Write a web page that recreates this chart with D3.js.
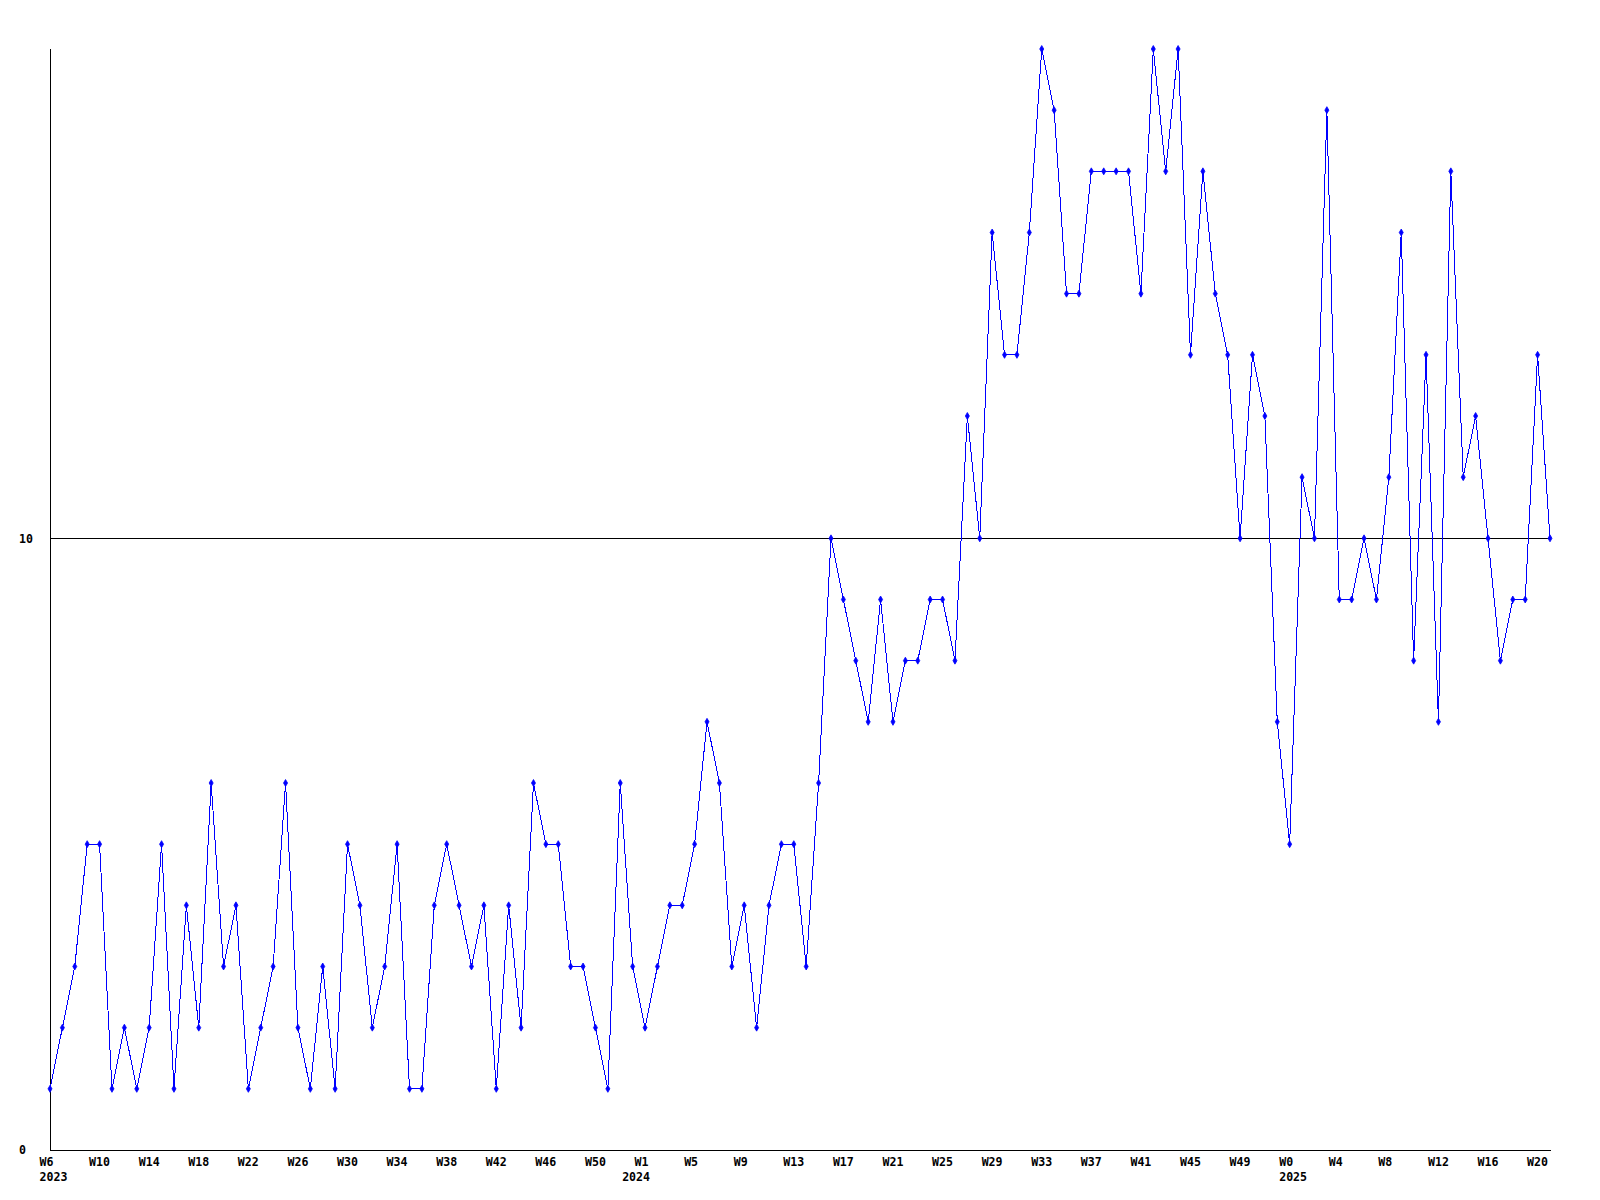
<!DOCTYPE html>
<html>
<head>
<meta charset="utf-8">
<script src="https://cdn.jsdelivr.net/npm/d3@7"></script>
<style>
  html, body { margin: 0; padding: 0; background: #ffffff; }
  svg text { font-family: "DejaVu Sans Mono", "Liberation Mono", monospace; font-weight: bold; font-size: 11.6px; fill: #000; }
</style>
</head>
<body>
<svg id="chart" width="1600" height="1200"></svg>
<script>
// Weekly values, one per week from W6 2023 to W21 2025
const values = [
  1, 2, 3, 5, 5, 1, 2, 1, 2, 5,
  1, 4, 2, 6, 3, 4, 1, 2, 3, 6,
  2, 1, 3, 1, 5, 4, 2, 3, 5, 1,
  1, 4, 5, 4, 3, 4, 1, 4, 2, 6,
  5, 5, 3, 3, 2, 1, 6, 3, 2, 3,
  4, 4, 5, 7, 6, 3, 4, 2, 4, 5,
  5, 3, 6, 10, 9, 8, 7, 9, 7, 8,
  8, 9, 9, 8, 12, 10, 15, 13, 13, 15,
  18, 17, 14, 14, 16, 16, 16, 16, 14, 18,
  16, 18, 13, 16, 14, 13, 10, 13, 12, 7,
  5, 11, 10, 17, 9, 9, 10, 9, 11, 15,
  8, 13, 7, 16, 11, 12, 10, 8, 9, 9,
  13, 10
];

// Week tick labels (every 4th week)
const weekTicks = ["W6","W10","W14","W18","W22","W26","W30","W34","W38","W42","W46","W50",
                   "W1","W5","W9","W13","W17","W21","W25","W29","W33","W37","W41","W45","W49",
                   "W0","W4","W8","W12","W16","W20"];
const tickStep = 4;

// Year labels and the week index where each year starts
const yearLabels = ["2023", "2024", "2025"];
const yearStartIndex = [0, 47, 100];

// Y axis ticks and reference line
const yTicks = [0, 10];
const refValue = 10;
const yMax = 18;

const svg = d3.select("#chart");
const pLeft = 50, pRight = 1550, pTop = 49, pBottom = 1150;

const x = d3.scaleLinear().domain([0, values.length - 1]).range([pLeft, pRight]);
const y = d3.scaleLinear().domain([0, yMax]).range([pBottom, pTop]);

// Axes lines
svg.append("line").attr("x1", pLeft + 0.5).attr("x2", pLeft + 0.5).attr("y1", pTop).attr("y2", pBottom)
  .attr("stroke", "#000").attr("stroke-width", 1).attr("shape-rendering", "crispEdges");
svg.append("line").attr("x1", pLeft).attr("x2", pRight + 1).attr("y1", pBottom + 0.5).attr("y2", pBottom + 0.5)
  .attr("stroke", "#000").attr("stroke-width", 1).attr("shape-rendering", "crispEdges");

// Reference line at 10
svg.append("line").attr("x1", pLeft).attr("x2", pRight + 1)
  .attr("y1", Math.round(y(refValue)) + 0.5).attr("y2", Math.round(y(refValue)) + 0.5)
  .attr("stroke", "#000").attr("stroke-width", 1).attr("shape-rendering", "crispEdges");

// Y tick labels
svg.selectAll("text.ytick").data(yTicks).enter().append("text")
  .attr("class", "ytick")
  .attr("x", 19)
  .attr("y", d => y(d))
  .attr("dy", "0.36em")
  .attr("text-anchor", "start")
  .text(d => d);

// X week labels
svg.selectAll("text.xtick").data(weekTicks).enter().append("text")
  .attr("class", "xtick")
  .attr("x", (d, i) => x(i * tickStep) - 10.5)
  .attr("y", 1166)
  .attr("text-anchor", "start")
  .text(d => d);

// Year labels
svg.selectAll("text.year").data(yearLabels).enter().append("text")
  .attr("class", "year")
  .attr("x", (d, i) => x(yearStartIndex[i]) - 10.5)
  .attr("y", 1181)
  .attr("text-anchor", "start")
  .text(d => d);

// Data line
const line = d3.line().x((d, i) => x(i)).y(d => y(d));
svg.append("path").datum(values)
  .attr("d", line)
  .attr("fill", "none")
  .attr("stroke", "#0000ff")
  .attr("stroke-width", 1)
  .attr("shape-rendering", "crispEdges");

// Markers (small diamonds)
const sym = d3.symbol().type(d3.symbolDiamond).size(14);
svg.selectAll("path.marker").data(values).enter().append("path")
  .attr("class", "marker")
  .attr("transform", (d, i) => `translate(${x(i)},${y(d)})`)
  .attr("d", sym)
  .attr("fill", "#0000ff")
  .attr("stroke", "#0000ff")
  .attr("stroke-width", 0.8);
</script>
</body>
</html>
